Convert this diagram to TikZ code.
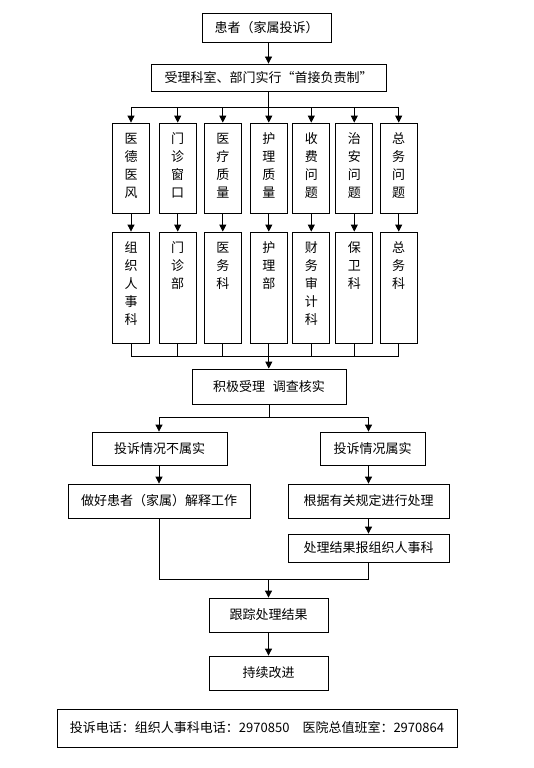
\documentclass[tikz,border=0pt]{standalone}
\usepackage{fontspec}
\setmainfont{Noto Sans CJK SC}
\usetikzlibrary{arrows.meta}
\tikzset{
  box/.style={draw, line width=0.8pt, inner sep=0pt, font=\fontsize{13}{16}\selectfont},
  colbox/.style={draw, line width=0.8pt, inner sep=0pt, minimum width=37pt},
  coltext/.style={anchor=north, inner sep=0pt, align=center, font=\fontsize{13}{18}\selectfont},
  arr/.style={-{Triangle[length=7pt,width=7pt]}, line width=0.8pt},
  ln/.style={line width=0.8pt}
}
\begin{document}
\begin{tikzpicture}[x=1pt,y=-1pt]
\fill[white] (0,0) rectangle (533,768);
\useasboundingbox (0,0) rectangle (533,768);
% top
\node[box, minimum width=129pt, minimum height=29pt] (p) at (266.5,27.5) {患者（家属投诉）};
\node[box, minimum width=235pt, minimum height=27pt] (r) at (268.5,77.5) {受理科室、部门实行“首接负责制”};
\draw[arr] (r.north |- p.south) -- (r.north);
\coordinate (s) at (268.5,107);
\draw[ln] (r.south) -- (s);
\draw[ln] (131,107) -- (398.7,107);
% columns
\foreach \i/\x/\ta/\tb in {
  1/131/{医\\德\\医\\风}/{组\\织\\人\\事\\科},
  2/177.7/{门\\诊\\窗\\口}/{门\\诊\\部},
  3/222.8/{医\\疗\\质\\量}/{医\\务\\科},
  4/268.8/{护\\理\\质\\量}/{护\\理\\部},
  5/311.3/{收\\费\\问\\题}/{财\\务\\审\\计\\科},
  6/354.3/{治\\安\\问\\题}/{保\\卫\\科},
  7/398.7/{总\\务\\问\\题}/{总\\务\\科}} {
  \node[colbox, minimum height=90pt] (a\i) at (\x,168) {};
  \node[coltext] at ([yshift=-10pt]a\i.north) {\ta};
  \node[colbox, minimum height=111pt] (b\i) at (\x,287.5) {};
  \node[coltext] at ([yshift=-10pt]b\i.north) {\tb};
  \draw[arr] (a\i.north |- s) -- (a\i.north);
  \draw[arr] (a\i.south) -- (b\i.north);
  \draw[ln] (b\i.south) -- (\x,356);
}
\draw[ln] (131,356) -- (398.7,356);
\node[box, minimum width=154pt, minimum height=35pt] (j) at (269,386.5) {积极受理\hspace{0.6em}调查核实};
\coordinate (m) at (268.8,356);
\draw[arr] (m) -- (m |- j.north);
% split
\coordinate (s2) at (269,417);
\draw[ln] (j.south) -- (s2);
\node[box, minimum width=135pt, minimum height=33pt] (n1) at (159.5,448.5) {投诉情况不属实};
\node[box, minimum width=105pt, minimum height=33pt] (y1) at (372.5,448.5) {投诉情况属实};
\node[box, minimum width=182pt, minimum height=34pt] (n2) at (159,501) {做好患者（家属）解释工作};
\node[box, minimum width=161pt, minimum height=34pt] (y2) at (368.5,501) {根据有关规定进行处理};
\node[box, minimum width=161pt, minimum height=28pt] (y3) at (368.5,548) {处理结果报组织人事科};
\coordinate (sl) at (159,417);
\coordinate (sr) at (368.5,417);
\draw[ln] (sl) -- (sr);
\draw[arr] (sl) -- (sl |- n1.north);
\draw[arr] (sr) -- (sr |- y1.north);
\draw[arr] (n1.south -| n2.north) -- (n2.north);
\draw[arr] (y1.south -| y2.north) -- (y2.north);
\draw[arr] (y2.south) -- (y3.north);
% merge
\coordinate (ml) at (159,579);
\coordinate (mr) at (368.5,579);
\draw[ln] (n2.south) -- (ml) -- (mr) -- (y3.south);
\node[box, minimum width=119pt, minimum height=34pt] (t) at (268.5,615) {跟踪处理结果};
\node[box, minimum width=119pt, minimum height=34pt] (c) at (268.5,673) {持续改进};
\draw[arr] (t.north |- ml) -- (t.north);
\draw[arr] (t.south) -- (c.north);
\node[box, minimum width=400pt, minimum height=38pt] (tel) at (257,728) {投诉电话：组织人事科电话：2970850\quad 医院总值班室：2970864};
\end{tikzpicture}
\end{document}
